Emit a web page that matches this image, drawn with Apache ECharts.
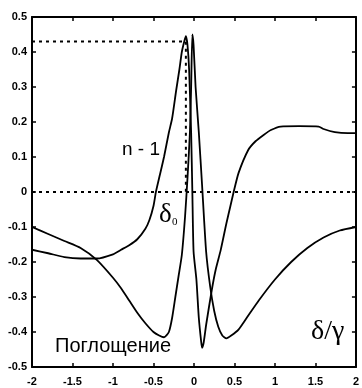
<!DOCTYPE html>
<html><head><meta charset="utf-8">
<script src="https://cdn.jsdelivr.net/npm/echarts@6/dist/echarts.min.js"></script>
<style>html,body{margin:0;padding:0;background:#fff}#c{width:362px;height:388px}</style>
</head><body><div id="c"></div>
<script>
// Absorption curve ("Поглощение")
const absX = [-2,-1.8,-1.6,-1.4,-1.2,-1.0,-0.9,-0.8,-0.7,-0.6,-0.5,-0.43,-0.37,-0.31,-0.27,-0.23,-0.19,-0.15,-0.11,-0.08,-0.05,-0.035,-0.02,-0.005,0.02,0.06,0.1,0.15,0.2,0.25,0.3,0.35,0.4,0.46,0.55,0.65,0.8,1.0,1.2,1.4,1.6,1.8,2.0];
const absY = [-0.10,-0.12,-0.14,-0.16,-0.194,-0.245,-0.275,-0.31,-0.345,-0.375,-0.40,-0.41,-0.415,-0.40,-0.36,-0.30,-0.24,-0.18,-0.07,0.04,0.17,0.30,0.45,0.42,0.30,0.17,0.02,-0.17,-0.27,-0.34,-0.385,-0.41,-0.418,-0.41,-0.393,-0.36,-0.31,-0.25,-0.2,-0.16,-0.13,-0.11,-0.10];
// Dispersion curve (n - 1)
const dispX = [-2,-1.8,-1.6,-1.4,-1.2,-1.0,-0.9,-0.8,-0.7,-0.6,-0.55,-0.5,-0.47,-0.42,-0.37,-0.31,-0.27,-0.22,-0.18,-0.15,-0.12,-0.1,-0.08,-0.06,-0.035,-0.02,-0.005,0.03,0.06,0.09,0.1,0.12,0.15,0.22,0.27,0.33,0.4,0.45,0.49,0.55,0.67,0.76,0.86,0.95,1.07,1.3,1.54,1.6,1.74,1.9,2.0];
const dispY = [-0.165,-0.175,-0.186,-0.19,-0.19,-0.178,-0.165,-0.152,-0.135,-0.105,-0.08,-0.04,0.0,0.05,0.10,0.17,0.21,0.29,0.35,0.40,0.43,0.445,0.42,0.35,0.17,0.0,-0.17,-0.25,-0.36,-0.43,-0.445,-0.43,-0.38,-0.28,-0.22,-0.166,-0.09,-0.04,0.0,0.054,0.12,0.145,0.163,0.177,0.187,0.188,0.187,0.18,0.171,0.168,0.168];
// Dotted guide lines
const guideX = [-2, -0.1, -0.1];
const guideY = [0.43, 0.43, 0];
const zeroX = [-2, 2];
const zeroY = [0, 0];
// Axis ticks
const xTickLabels = ['-2','-1.5','-1','-0.5','0','0.5','1','1.5','2'];
const yTickLabels = ['-0.5','-0.4','-0.3','-0.2','-0.1','0','0.1','0.2','0.3','0.4','0.5'];

const zip = (xs, ys) => xs.map((x, i) => [x, ys[i]]);
const chart = echarts.init(document.getElementById('c'), null, {renderer: 'canvas'});
const labelFont = {color: '#000', fontSize: 11, fontWeight: 'bold', fontFamily: 'Liberation Sans'};
const axisBase = {
  axisLine: {show: true, onZero: false, lineStyle: {color: '#000', width: 2}},
  axisTick: {show: true, inside: true, length: 4, lineStyle: {color: '#000', width: 1.5}},
  splitLine: {show: false}
};
const lineStyle = {color: '#000', width: 1.8};
chart.setOption({
  animation: false,
  backgroundColor: '#fff',
  grid: {left: 32, right: 4, top: 17, bottom: 21},
  xAxis: [
    Object.assign({type: 'value', min: -2, max: 2, interval: 0.5, position: 'bottom',
      axisLabel: Object.assign({margin: 9, formatter: v => xTickLabels[Math.round((v + 2) / 0.5)]}, labelFont)}, axisBase),
    Object.assign({type: 'value', min: -2, max: 2, interval: 0.5, position: 'top', axisLabel: {show: false}}, axisBase)
  ],
  yAxis: [
    Object.assign({type: 'value', min: -0.5, max: 0.5, interval: 0.1, position: 'left',
      axisLabel: Object.assign({margin: 5, formatter: v => yTickLabels[Math.round((v + 0.5) / 0.1)]}, labelFont)}, axisBase),
    Object.assign({type: 'value', min: -0.5, max: 0.5, interval: 0.1, position: 'right', axisLabel: {show: false}}, axisBase)
  ],
  series: [
    {type: 'line', data: zip(zeroX, zeroY), showSymbol: false, lineStyle: {color: '#000', width: 2, type: [3, 4]}},
    {type: 'line', data: zip(guideX, guideY), showSymbol: false, lineStyle: {color: '#000', width: 2, type: [3, 4]}},
    {type: 'line', data: zip(absX, absY), showSymbol: false, smooth: 0.2, lineStyle: lineStyle},
    {type: 'line', data: zip(dispX, dispY), showSymbol: false, smooth: 0.2, lineStyle: lineStyle}
  ],
  graphic: [
    {type: 'text', left: 122, top: 140, style: {text: 'n - 1', font: '19px "Liberation Sans"', fill: '#000'}},
    {type: 'text', left: 159, top: 201, style: {text: 'δ', font: '27px "Liberation Serif"', fill: '#000'}},
    {type: 'text', left: 172, top: 217, style: {text: '0', font: '11px "Liberation Serif"', fill: '#000'}},
    {type: 'text', left: 55, top: 336, style: {text: 'Поглощение', font: '20px "Liberation Sans"', fill: '#000'}},
    {type: 'text', left: 311, top: 318, style: {text: 'δ/γ', font: '28px "Liberation Serif"', fill: '#000'}}
  ]
});
</script></body></html>
